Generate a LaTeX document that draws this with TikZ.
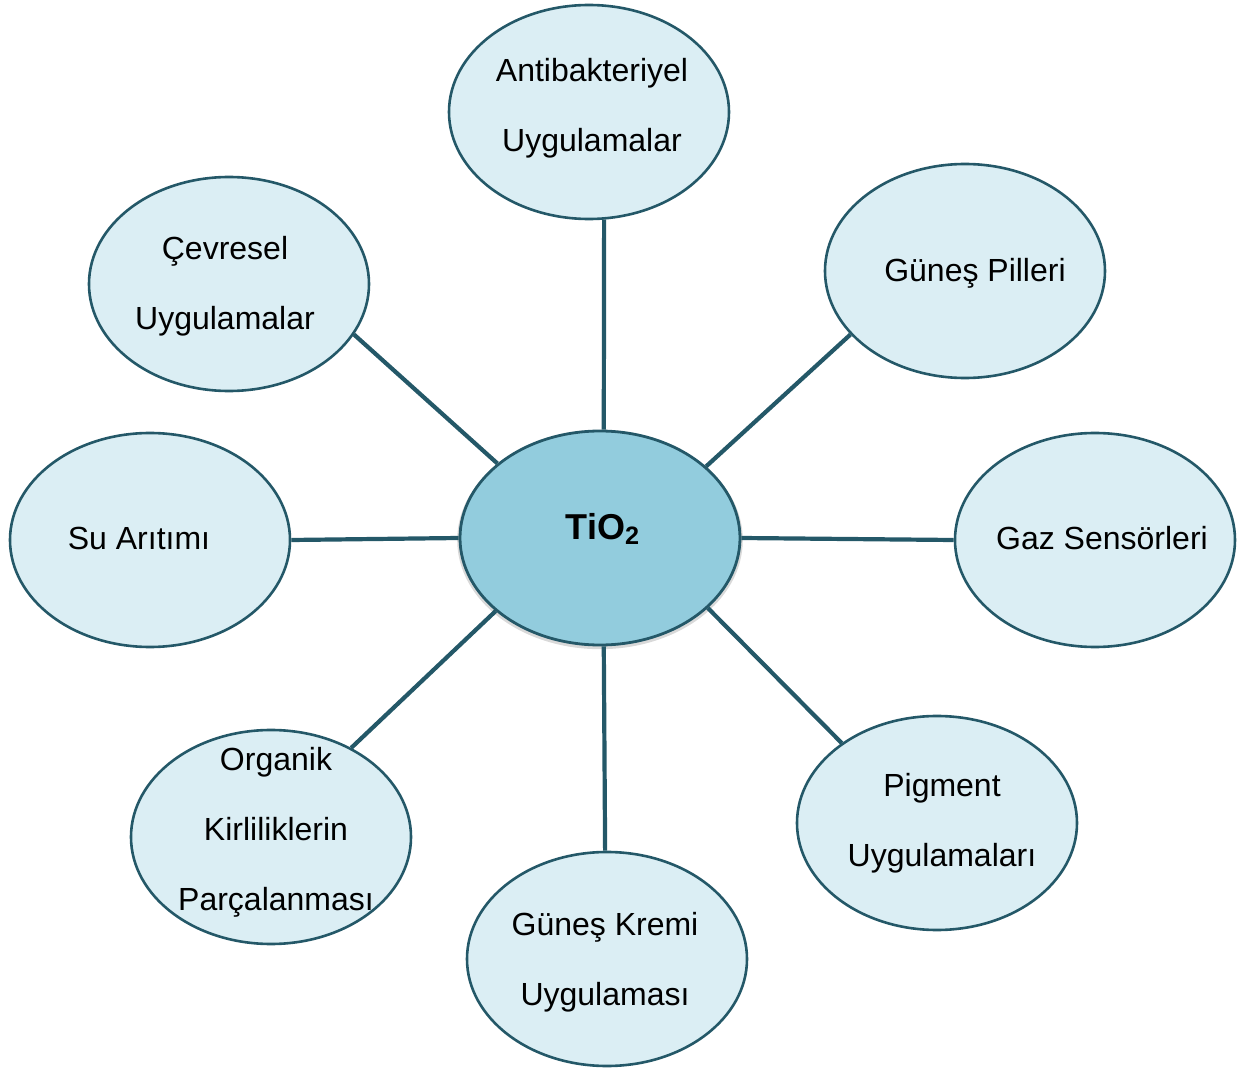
\documentclass[tikz,border=0pt]{standalone}
\usepackage{fontspec}
\setmainfont{Liberation Sans}
\usetikzlibrary{shapes.geometric,shadows}
\definecolor{tioEdge}{RGB}{36,88,104}
\definecolor{tioCore}{RGB}{146,204,221}
\definecolor{tioPale}{RGB}{219,238,244}

\begin{document}
\begin{tikzpicture}[x=0.5pt,y=-0.5pt]
  \tikzset{
    core/.style={ellipse,draw=tioEdge,line width=1.4pt,fill=tioCore,minimum width=140pt,minimum height=107pt,inner sep=0pt,
      drop shadow={shadow xshift=0pt,shadow yshift=-1pt,shadow scale=1.02,opacity=0.3}},
    app/.style={ellipse,draw=tioEdge,line width=1.3pt,fill=tioPale,minimum width=140pt,minimum height=107pt,inner sep=0pt},
    txt/.style={font=\fontsize{16}{35}\selectfont,align=center,inner sep=0pt},
    link/.style={draw=tioEdge,line width=2.1pt}
  }
  \useasboundingbox (0,0) rectangle (1250,1070);
  % centre and applications
  \node[core,label={[txt,shift={(3,-9)},font=\fontsize{18}{20}\selectfont\bfseries]center:TiO\textsubscript{2}}] (core) at (600,538) {};
  \node[app,label={[txt,shift={(3,-4)}]center:Antibakteriyel\\Uygulamalar}] (anti) at (589,112) {};
  \node[app,label={[txt,shift={(-4,2)}]center:Çevresel\\Uygulamalar}] (env) at (229,284) {};
  \node[app,label={[txt,shift={(10,2)}]center:Güneş Pilleri}] (solar) at (965,271) {};
  \node[app,label={[txt,shift={(-11,-2)}]center:Su Arıtımı}] (water) at (150,540) {};
  \node[app,label={[txt,shift={(7,-2)}]center:Gaz Sensörleri}] (gas) at (1095,540) {};
  \node[app,label={[txt,shift={(5,-5)}]center:Organik\\Kirliliklerin\\Parçalanması}] (org) at (271,837) {};
  \node[app,label={[txt,shift={(-2,3)}]center:Güneş Kremi\\Uygulaması}] (cream) at (607,959) {};
  \node[app,label={[txt,shift={(5,0)}]center:Pigment\\Uygulamaları}] (pig) at (937,823) {};
  \foreach \a/\n/\b in {144/env/-22,34.6/solar/209,180/water/0,0/gas/180,215/org/48.6,-33/pig/140,-88/cream/91,88/anti/-82}
    \draw[link] (core.\a) -- (\n.\b);
\end{tikzpicture}
\end{document}
